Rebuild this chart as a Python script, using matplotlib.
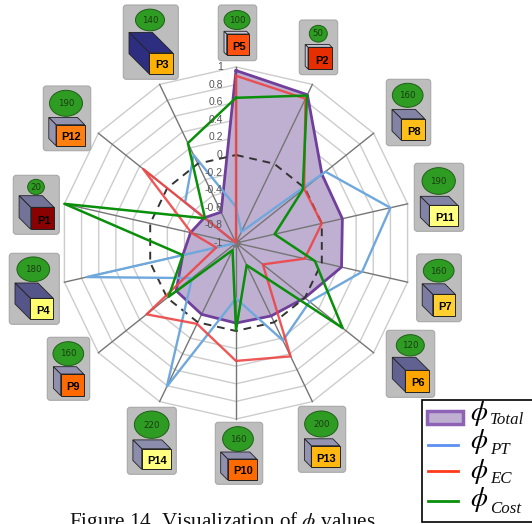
import numpy as np
import matplotlib
matplotlib.use('Agg')
import matplotlib.pyplot as plt
from matplotlib.patches import Ellipse, FancyBboxPatch, Polygon, Rectangle

W, H = 532, 524

# clockwise from the top
parts = ['P5', 'P2', 'P8', 'P11', 'P7', 'P6', 'P13', 'P10', 'P14', 'P9', 'P4', 'P1', 'P12', 'P3']
weights = [100, 50, 160, 190, 160, 120, 200, 160, 220, 160, 180, 20, 190, 140]
phi_total = [0.96, 0.87, 0.25, 0.24, 0.23, 0.0, -0.08, -0.09, -0.10, -0.13, -0.38, -0.47, -0.54, -0.61]
phi_pt = [-0.59, -0.86, 0.30, 0.80, 0.47, 0.07, 0.23, -0.37, 0.81, -0.36, 0.74, -1.0, -0.26, 0.11]
phi_ec = [0.90, 0.82, -0.01, 0.0, -0.20, -0.61, 0.43, 0.34, 0.02, 0.30, -0.77, -0.48, 0.35, -1.0]
phi_cost = [0.65, 0.86, -0.03, -0.55, -0.08, 0.55, -0.72, -0.01, -0.91, -0.02, -0.38, 1.0, -0.55, 0.26]
levels = [1, 0.8, 0.6, 0.4, 0.2, 0, -0.2, -0.4, -0.6, -0.8, -1]
legend_names = ['Total', 'PT', 'EC', 'Cost']

# card layout in pixels: card box, ellipse centre and size, cube front box, cube depth
cards = {
    'P3': ((123.3, 5, 178.3, 79.3), (150, 20, 29, 21.7), (149.3, 52.7, 172.7, 74), 20.3, '#FFB000', '#2E2E80'),
    'P5': ((218.3, 5, 256.7, 60.7), (237, 20, 26, 19), (226.7, 34, 249.3, 55), 2.7, '#FF5010', '#C4C4D4'),
    'P12': ((43.3, 86, 90.7, 150.7), (66, 103.3, 33, 26), (56, 124.7, 84.7, 145.7), 7.2, '#FF8010', '#9494B0'),
    'P1': ((13.3, 175.3, 59.3, 234.3), (36, 187, 16.7, 15.3), (30.7, 207.3, 54, 229.3), 11.6, '#8B0000', '#737399'),
    'P2': ((299.3, 20, 337.7, 74.7), (318.3, 33.7, 18, 16.7), (308, 47.3, 332, 69), 2.8, '#E62E00', '#C4C4D4'),
    'P8': ((386.3, 79.3, 430.7, 145.7), (407.7, 95.3, 30.7, 24), (401.3, 118.7, 424.7, 140.3), 9.3, '#FFBE18', '#8383A6'),
    'P11': ((414.3, 163.3, 463.7, 231.3), (438.7, 181, 33.3, 26.7), (429.3, 205.3, 457.7, 226.3), 9, '#FFFF80', '#8383A6'),
    'P7': ((416.7, 254, 461.3, 321.7), (438.7, 270.7, 30.7, 22.7), (432.7, 294.3, 455.3, 316), 10.5, '#FFD030', '#7C7CA2'),
    'P6': ((386.3, 330.3, 434.7, 397.3), (410.3, 345.3, 28, 21.3), (405.3, 370.3, 428.7, 391.7), 13, '#FFA500', '#626292'),
    'P13': ((298.3, 406.3, 345.7, 472.3), (321.3, 424, 33.3, 26), (311.3, 445.7, 339.7, 467), 6.9, '#FFB810', '#9494B0'),
    'P10': ((215.3, 422.3, 262.7, 484.3), (238, 439, 30.7, 24.7), (227.7, 459, 256.7, 480), 7, '#FF6A00', '#9090AE'),
    'P14': ((127.3, 407.3, 176.3, 474.3), (151.7, 424.7, 34.7, 27.3), (141.7, 448.7, 170.7, 469.3), 8.8, '#FFFF80', '#8C8CAC'),
    'P9': ((47.3, 337.3, 89.7, 400.3), (68.3, 353.7, 30.7, 24), (60.7, 374, 83.7, 395.7), 7.3, '#FF6A00', '#9090AE'),
    'P4': ((9.3, 253.3, 59.3, 324.3), (33.3, 269.3, 32.7, 24.7), (30.3, 298.3, 53.3, 319.3), 15.3, '#FFFF70', '#55558A'),
}


def draw_card(ax, name, weight):
    box, ell, front, d, front_col, side_col = cards[name]
    x0, y0, x1, y1 = box
    ax.add_patch(FancyBboxPatch((x0 + 2, y0 + 2), x1 - x0 - 4, y1 - y0 - 4,
                                boxstyle='round,pad=2,rounding_size=3',
                                fc='#BDBDBD', ec='#A8A8A8', lw=0.8))
    ax.add_patch(Ellipse((ell[0], ell[1]), ell[2], ell[3], fc='#2E9B22', ec='#1F5F18', lw=0.7))
    ax.text(ell[0], ell[1] + 0.3, str(weight), ha='center', va='center', fontsize=6.2,
            color='#1A3A14', family='DejaVu Sans')
    fx0, fy0, fx1, fy1 = front
    ax.add_patch(Polygon([(fx0, fy0), (fx0 - d, fy0 - d), (fx1 - d, fy0 - d), (fx1, fy0)],
                         fc=side_col, ec='#222222', lw=0.6))
    ax.add_patch(Polygon([(fx0, fy0), (fx0 - d, fy0 - d), (fx0 - d, fy1 - d), (fx0, fy1)],
                         fc=side_col, ec='#222222', lw=0.6))
    ax.add_patch(Rectangle((fx0, fy0), fx1 - fx0, fy1 - fy0, fc=front_col, ec='#222222', lw=0.7))
    ax.text(fx1 - 3.5, fy1 - 5.5, name, ha='right', va='baseline', fontsize=8, weight='bold',
            family='Liberation Sans', color='black')


plt.rcParams['mathtext.fontset'] = 'stix'
fig = plt.figure(figsize=(W / 100, H / 100), dpi=100)

cx, cy, R = 236, 243, 176
ax = fig.add_axes([(cx - R) / W, (H - cy - R) / H, 2 * R / W, 2 * R / H], projection='polar')
ax.set_theta_zero_location('N')
ax.set_theta_direction(-1)
ax.set_rlim(-1, 1)
ax.axis('off')

angles = np.arange(len(parts)) * 2 * np.pi / len(parts)


def closed(vals):
    return np.r_[angles, angles[0]], np.r_[vals, vals[0]]


for lev in levels:
    if lev not in (0, -1):
        ax.plot(*closed(np.full(len(parts), lev)), color='#CCCCCC', lw=1, zorder=1, clip_on=False)

t, v = closed(phi_total)
ax.fill(t, v, facecolor='#BFB0D2', edgecolor='none', zorder=2)
ax.plot(t, v, color='#6F3F9B', lw=2, zorder=4, clip_on=False)

for a in angles:
    ax.plot([a, a], [-1, 1], color='#757575', lw=1, zorder=3, clip_on=False)
ax.plot([0], [-1], 'o', color='#777777', ms=5, zorder=3)
ax.plot(*closed(np.zeros(len(parts))), color='#333333', lw=1.4, dashes=(4, 3), zorder=4)

ax.plot(*closed(phi_pt), color='#6FA8DC', lw=1.7, zorder=5, clip_on=False)
ax.plot(*closed(phi_ec), color='#EE4444', lw=1.7, alpha=0.9, zorder=6, clip_on=False)
ax.plot(*closed(phi_cost), color='#0A8F0A', lw=1.8, zorder=7, clip_on=False)

for lev in levels:
    ax.annotate(str(lev), (0, lev), xytext=(-9.5, 0), textcoords='offset points', ha='right',
                va='center', fontsize=7.5, color='#555555', family='Liberation Sans',
                zorder=8, annotation_clip=False)

# overlay in pixel coordinates for the cards, legend and caption
over = fig.add_axes([0, 0, 1, 1], facecolor='none')
over.set_xlim(0, W)
over.set_ylim(H, 0)
over.axis('off')
for name, weight in zip(parts, weights):
    draw_card(over, name, weight)

over.text(69, 527, r'Figure 14. Visualization of $\phi$ values', ha='left', va='baseline',
          fontsize=15.2, family='Liberation Serif', color='#111111', clip_on=True)

# legend box runs off the right edge of the picture
over.add_patch(Rectangle((422, 400), 130, 121.7, fc='white', ec='black', lw=1.2, zorder=10))
over.add_patch(Rectangle((426.5, 411), 36, 12.5, fc='#BFB0D2', ec='#8E62B5', lw=2.5, zorder=11))
line_colors = ['#5B8FF0', '#FF3A1A', '#0A8F0A']
line_y = [445, 471, 501]
for col, y in zip(line_colors, line_y):
    over.plot([428.3, 457.7], [y, y], color=col, lw=2, zorder=11)
phi_y = [413, 442, 472, 500]
sub_y = [424, 454, 483, 513]
for name, py, sy in zip(legend_names, phi_y, sub_y):
    over.text(470.5, py, r'$\phi$', ha='left', va='center', fontsize=19.5, color='black', zorder=11)
    over.text(490, sy, name, ha='left', va='baseline', fontsize=12.2, style='italic',
              family='Liberation Serif', color='#111111', zorder=11)

fig.savefig('out.png', dpi=100)
